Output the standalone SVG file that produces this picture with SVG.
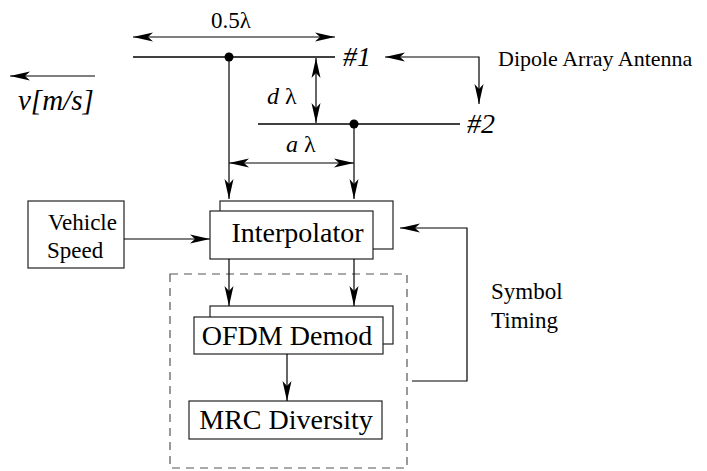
<svg xmlns="http://www.w3.org/2000/svg" width="707" height="471" viewBox="0 0 707 471" font-family="Liberation Serif, Times New Roman, serif">
<style>
.i{font-style:italic}
.box{fill:#fff;stroke:#222;stroke-width:1.2}
.c{fill:none;stroke:#000;stroke-width:1.2}
.ant{stroke:#000;stroke-width:1.4}
.dash{fill:none;stroke:#555;stroke-width:1.2;stroke-dasharray:8,6}
</style>
<defs>
<marker id="ah" viewBox="0 0 20 10" refX="20" refY="5" markerWidth="20" markerHeight="10" markerUnits="userSpaceOnUse" orient="auto-start-reverse">
<path d="M0,0.5 L20,5 L0,9.5 L5,5 Z" fill="#000"/>
</marker>
</defs>
<g id="antenna1">
<line class="ant" x1="133" y1="57" x2="335" y2="57"/>
<circle cx="229" cy="57" r="4.5" fill="#000"/>
<text class="i" x="343" y="66" font-size="28">#1</text>
</g>
<g id="antenna2">
<line class="ant" x1="258" y1="124" x2="460" y2="124"/>
<circle cx="354" cy="124" r="4.5" fill="#000"/>
<text class="i" x="467" y="133" font-size="28">#2</text>
</g>
<g id="labels">
<text x="231" y="28" font-size="23" text-anchor="middle">0.5λ</text>
<text x="498" y="66" font-size="22">Dipole Array Antenna</text>
<text x="267" y="104" font-size="24"><tspan class="i">d</tspan> λ</text>
<text x="286" y="152" font-size="24"><tspan class="i">a</tspan> λ</text>
<text class="i" x="18" y="110" font-size="29">v[m/s]</text>
<text x="491" y="299" font-size="23">Symbol</text>
<text x="491" y="328" font-size="23">Timing</text>
</g>
<g id="vehicle-speed">
<rect class="box" x="28" y="201" width="96" height="67"/>
<text x="48" y="230" font-size="23">Vehicle</text>
<text x="47" y="258" font-size="23">Speed</text>
</g>
<g id="interpolator">
<rect class="box" x="220" y="201" width="173" height="48"/>
<rect class="box" x="210" y="211" width="163" height="48"/>
<text x="297.5" y="242" font-size="28" text-anchor="middle">Interpolator</text>
</g>
<g id="demod-group">
<rect class="dash" x="170" y="274" width="237" height="194"/>
</g>
<g id="ofdm-demod">
<rect class="box" x="210" y="306" width="183" height="38"/>
<rect class="box" x="194" y="317" width="189" height="37"/>
<text x="287" y="345" font-size="28" text-anchor="middle">OFDM Demod</text>
</g>
<g id="mrc-diversity">
<rect class="box" x="189" y="401" width="193" height="38"/>
<text x="286" y="429" font-size="28" text-anchor="middle">MRC Diversity</text>
</g>
<g id="connectors">
<line class="c" x1="133" y1="37" x2="335" y2="37" marker-start="url(#ah)" marker-end="url(#ah)"/>
<line class="c" x1="316" y1="58" x2="316" y2="123" marker-start="url(#ah)" marker-end="url(#ah)"/>
<line class="c" x1="229" y1="163" x2="354" y2="163" marker-start="url(#ah)" marker-end="url(#ah)"/>
<path class="c" d="M385,57 H479 V104" marker-start="url(#ah)" marker-end="url(#ah)"/>
<line class="c" x1="95" y1="76" x2="10" y2="76" marker-end="url(#ah)"/>
<line class="c" x1="229" y1="61" x2="229" y2="199" marker-end="url(#ah)"/>
<line class="c" x1="354" y1="128" x2="354" y2="199" marker-end="url(#ah)"/>
<line class="c" x1="124" y1="239" x2="210" y2="239" marker-end="url(#ah)"/>
<line class="c" x1="229" y1="259" x2="229" y2="306" marker-end="url(#ah)"/>
<line class="c" x1="354" y1="259" x2="354" y2="306" marker-end="url(#ah)"/>
<line class="c" x1="287" y1="354" x2="287" y2="401" marker-end="url(#ah)"/>
<path class="c" d="M412,381 H467 V228 H400" marker-end="url(#ah)"/>
</g>
</svg>
